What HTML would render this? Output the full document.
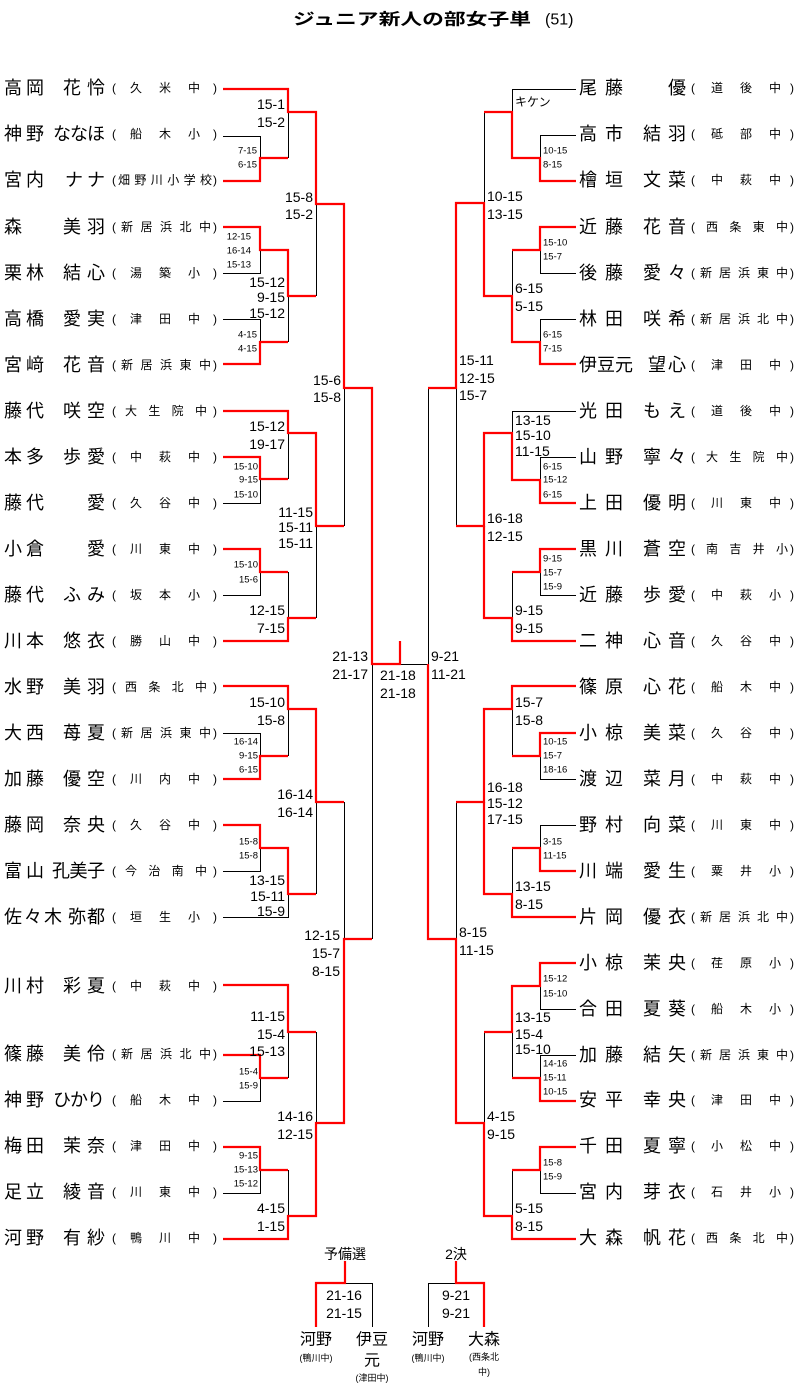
<!DOCTYPE html>
<html><head><meta charset="utf-8">
<style>
html,body{margin:0;padding:0;background:#fff;}
svg{display:block;}
text{font-family:"Liberation Sans","Noto Sans CJK JP",sans-serif;fill:#000;dominant-baseline:central;}
.n{font-size:18px;}
.c{font-size:12px;}
.m{font-size:14px;}
.s{font-size:9.5px;}
.e{text-anchor:end;}
.mid{text-anchor:middle;}
.r{fill:none;stroke:#ff0000;stroke-width:2.2;}
.k{fill:none;stroke:#000;stroke-width:1;}
</style></head>
<body>
<svg width="799" height="1389" viewBox="0 0 799 1389" xmlns="http://www.w3.org/2000/svg">
<text x="293" y="20" textLength="238" lengthAdjust="spacingAndGlyphs" style="font-size:16px;font-weight:bold">ジュニア新人の部女子単</text>
<text x="545" y="20" style="font-size:16px">(51)</text>

<!-- black lines -->
<g class="k">
<path d="M223 136.5H260.5V158M288.5 112V158M223 273.5H260.5V250M223 319.5H260.5V342M288.5 296V342M316.5 204V296"/>
<path d="M223 503.5H260.5V479M288.5 433V479M223 595.5H260.5V572M288.5 572V618M316.5 526V618M344.5 388V526"/>
<path d="M223 733.5H260.5V756M288.5 709V756M223 871.5H260.5V848M223 917.5H288.5V894M316.5 802V894M344.5 802V939M372.5 664V939"/>
<path d="M223 1101.5H260.5V1078M288.5 1032V1078M223 1193.5H260.5V1170M288.5 1170V1216M316.5 1032V1123"/>
<path d="M400 664.5H428.5"/>
<path d="M576 89.5H512.5V112M576 135.5H540.5V158M484.5 112V203M576 273.5H540.5V250M512.5 250V296M576 319.5H540.5V342"/>
<path d="M428.5 388V664M456.5 388V526M576 411.5H512.5V433M576 457.5H540.5V480M576 595.5H540.5V572M512.5 572V618"/>
<path d="M576 779.5H540.5V756M512.5 709V756M576 825.5H540.5V848M512.5 848V894M456.5 802V939"/>
<path d="M576 1009.5H540.5V986M576 1055.5H540.5V1078M512.5 1032V1078M576 1193.5H540.5V1170M512.5 1170V1216M484.5 1032V1123"/>
<path d="M345 1283.5H372.5V1327M456 1283.5H428.5V1327"/>
</g>
<!-- red lines -->
<g class="r">
<path d="M223 89H288V112H316V204H344V388H372V664H400V641"/>
<path d="M223 181H260V158H288"/>
<path d="M223 227H260V250H288V296H316"/>
<path d="M223 364H260V342H288"/>
<path d="M223 411H288V433H316V526H344"/>
<path d="M223 457H260V479H288"/>
<path d="M223 549H260V572H288"/>
<path d="M223 641H288V618H316"/>
<path d="M223 686H288V709H316V802H344"/>
<path d="M223 779H260V756H288"/>
<path d="M223 825H260V848H288V894H316"/>
<path d="M223 1239H288V1216H316V1123H344V939H372"/>
<path d="M223 985H288V1032H316"/>
<path d="M223 1055H260V1078H288"/>
<path d="M223 1147H260V1170H288"/>
<path d="M576 181H540V158H512V112H484"/>
<path d="M576 227H540V250H512"/>
<path d="M576 364H540V342H512V296H484V203H456V388H428"/>
<path d="M576 503H540V480H512V433H484V526H456"/>
<path d="M576 549H540V572H512"/>
<path d="M576 641H512V618H484V526"/>
<path d="M576 686H512V709H484V802H456"/>
<path d="M576 733H540V756H512"/>
<path d="M576 871H540V848H512"/>
<path d="M576 917H512V894H484V802"/>
<path d="M576 963H540V986H512V1032H484"/>
<path d="M576 1101H540V1078H512"/>
<path d="M576 1147H540V1170H512"/>
<path d="M576 1239H512V1216H484V1123H456V939H428V664"/>
<path d="M345 1261V1283H316V1327"/>
<path d="M456 1261V1283H484V1327"/>
</g>

<!-- left names -->
<g class="n">
<text x="4" y="88" textLength="40" lengthAdjust="spacing">高岡</text><text x="63" y="88" textLength="42" lengthAdjust="spacing">花怜</text>
<text x="4" y="134" textLength="40" lengthAdjust="spacing">神野</text><text x="53" y="134" textLength="52" lengthAdjust="spacing">ななほ</text>
<text x="4" y="180" textLength="40" lengthAdjust="spacing">宮内</text><text x="65" y="180" textLength="40" lengthAdjust="spacing">ナナ</text>
<text x="4" y="227">森</text><text x="63" y="227" textLength="42" lengthAdjust="spacing">美羽</text>
<text x="4" y="273" textLength="40" lengthAdjust="spacing">栗林</text><text x="63" y="273" textLength="42" lengthAdjust="spacing">結心</text>
<text x="4" y="319" textLength="40" lengthAdjust="spacing">高橋</text><text x="63" y="319" textLength="42" lengthAdjust="spacing">愛実</text>
<text x="4" y="365" textLength="40" lengthAdjust="spacing">宮﨑</text><text x="63" y="365" textLength="42" lengthAdjust="spacing">花音</text>
<text x="4" y="411" textLength="40" lengthAdjust="spacing">藤代</text><text x="63" y="411" textLength="42" lengthAdjust="spacing">咲空</text>
<text x="4" y="457" textLength="40" lengthAdjust="spacing">本多</text><text x="63" y="457" textLength="42" lengthAdjust="spacing">歩愛</text>
<text x="4" y="503" textLength="40" lengthAdjust="spacing">藤代</text><text x="87" y="503">愛</text>
<text x="4" y="549" textLength="40" lengthAdjust="spacing">小倉</text><text x="87" y="549">愛</text>
<text x="4" y="595" textLength="40" lengthAdjust="spacing">藤代</text><text x="63" y="595" textLength="42" lengthAdjust="spacing">ふみ</text>
<text x="4" y="641" textLength="40" lengthAdjust="spacing">川本</text><text x="63" y="641" textLength="42" lengthAdjust="spacing">悠衣</text>
<text x="4" y="687" textLength="40" lengthAdjust="spacing">水野</text><text x="63" y="687" textLength="42" lengthAdjust="spacing">美羽</text>
<text x="4" y="733" textLength="40" lengthAdjust="spacing">大西</text><text x="63" y="733" textLength="42" lengthAdjust="spacing">苺夏</text>
<text x="4" y="779" textLength="40" lengthAdjust="spacing">加藤</text><text x="63" y="779" textLength="42" lengthAdjust="spacing">優空</text>
<text x="4" y="825" textLength="40" lengthAdjust="spacing">藤岡</text><text x="63" y="825" textLength="42" lengthAdjust="spacing">奈央</text>
<text x="4" y="871" textLength="40" lengthAdjust="spacing">富山</text><text x="52" y="871" textLength="53" lengthAdjust="spacing">孔美子</text>
<text x="4" y="917" textLength="58" lengthAdjust="spacing">佐々木</text><text x="68" y="917" textLength="37" lengthAdjust="spacing">弥都</text>
<text x="4" y="986" textLength="40" lengthAdjust="spacing">川村</text><text x="63" y="986" textLength="42" lengthAdjust="spacing">彩夏</text>
<text x="4" y="1054" textLength="40" lengthAdjust="spacing">篠藤</text><text x="63" y="1054" textLength="42" lengthAdjust="spacing">美伶</text>
<text x="4" y="1100" textLength="40" lengthAdjust="spacing">神野</text><text x="53" y="1100" textLength="52" lengthAdjust="spacing">ひかり</text>
<text x="4" y="1146" textLength="40" lengthAdjust="spacing">梅田</text><text x="63" y="1146" textLength="42" lengthAdjust="spacing">茉奈</text>
<text x="4" y="1192" textLength="40" lengthAdjust="spacing">足立</text><text x="63" y="1192" textLength="42" lengthAdjust="spacing">綾音</text>
<text x="4" y="1238" textLength="40" lengthAdjust="spacing">河野</text><text x="63" y="1238" textLength="42" lengthAdjust="spacing">有紗</text>
</g>
<!-- left schools -->
<g class="c">
<text x="112" y="88">(</text><text x="130" y="88" textLength="70" lengthAdjust="spacing">久米中</text><text x="213" y="88">)</text>
<text x="112" y="134">(</text><text x="130" y="134" textLength="70" lengthAdjust="spacing">船木小</text><text x="213" y="134">)</text>
<text x="112" y="180">(</text><text x="118" y="180" textLength="94" lengthAdjust="spacing">畑野川小学校</text><text x="213" y="180">)</text>
<text x="112" y="227">(</text><text x="121" y="227" textLength="90" lengthAdjust="spacing">新居浜北中</text><text x="213" y="227">)</text>
<text x="112" y="273">(</text><text x="130" y="273" textLength="70" lengthAdjust="spacing">湯築小</text><text x="213" y="273">)</text>
<text x="112" y="319">(</text><text x="130" y="319" textLength="70" lengthAdjust="spacing">津田中</text><text x="213" y="319">)</text>
<text x="112" y="365">(</text><text x="121" y="365" textLength="90" lengthAdjust="spacing">新居浜東中</text><text x="213" y="365">)</text>
<text x="112" y="411">(</text><text x="125" y="411" textLength="82" lengthAdjust="spacing">大生院中</text><text x="213" y="411">)</text>
<text x="112" y="457">(</text><text x="130" y="457" textLength="70" lengthAdjust="spacing">中萩中</text><text x="213" y="457">)</text>
<text x="112" y="503">(</text><text x="130" y="503" textLength="70" lengthAdjust="spacing">久谷中</text><text x="213" y="503">)</text>
<text x="112" y="549">(</text><text x="130" y="549" textLength="70" lengthAdjust="spacing">川東中</text><text x="213" y="549">)</text>
<text x="112" y="595">(</text><text x="130" y="595" textLength="70" lengthAdjust="spacing">坂本小</text><text x="213" y="595">)</text>
<text x="112" y="641">(</text><text x="130" y="641" textLength="70" lengthAdjust="spacing">勝山中</text><text x="213" y="641">)</text>
<text x="112" y="687">(</text><text x="125" y="687" textLength="82" lengthAdjust="spacing">西条北中</text><text x="213" y="687">)</text>
<text x="112" y="733">(</text><text x="121" y="733" textLength="90" lengthAdjust="spacing">新居浜東中</text><text x="213" y="733">)</text>
<text x="112" y="779">(</text><text x="130" y="779" textLength="70" lengthAdjust="spacing">川内中</text><text x="213" y="779">)</text>
<text x="112" y="825">(</text><text x="130" y="825" textLength="70" lengthAdjust="spacing">久谷中</text><text x="213" y="825">)</text>
<text x="112" y="871">(</text><text x="125" y="871" textLength="82" lengthAdjust="spacing">今治南中</text><text x="213" y="871">)</text>
<text x="112" y="917">(</text><text x="130" y="917" textLength="70" lengthAdjust="spacing">垣生小</text><text x="213" y="917">)</text>
<text x="112" y="986">(</text><text x="130" y="986" textLength="70" lengthAdjust="spacing">中萩中</text><text x="213" y="986">)</text>
<text x="112" y="1054">(</text><text x="121" y="1054" textLength="90" lengthAdjust="spacing">新居浜北中</text><text x="213" y="1054">)</text>
<text x="112" y="1100">(</text><text x="130" y="1100" textLength="70" lengthAdjust="spacing">船木中</text><text x="213" y="1100">)</text>
<text x="112" y="1146">(</text><text x="130" y="1146" textLength="70" lengthAdjust="spacing">津田中</text><text x="213" y="1146">)</text>
<text x="112" y="1192">(</text><text x="130" y="1192" textLength="70" lengthAdjust="spacing">川東中</text><text x="213" y="1192">)</text>
<text x="112" y="1238">(</text><text x="130" y="1238" textLength="70" lengthAdjust="spacing">鴨川中</text><text x="213" y="1238">)</text>
</g>

<!-- right names -->
<g class="n">
<text x="579" y="88" textLength="44" lengthAdjust="spacing">尾藤</text><text x="668" y="88">優</text>
<text x="579" y="134" textLength="44" lengthAdjust="spacing">高市</text><text x="643" y="134" textLength="43" lengthAdjust="spacing">結羽</text>
<text x="579" y="180" textLength="44" lengthAdjust="spacing">檜垣</text><text x="643" y="180" textLength="43" lengthAdjust="spacing">文菜</text>
<text x="579" y="227" textLength="44" lengthAdjust="spacing">近藤</text><text x="643" y="227" textLength="43" lengthAdjust="spacing">花音</text>
<text x="579" y="273" textLength="44" lengthAdjust="spacing">後藤</text><text x="643" y="273" textLength="43" lengthAdjust="spacing">愛々</text>
<text x="579" y="319" textLength="44" lengthAdjust="spacing">林田</text><text x="643" y="319" textLength="43" lengthAdjust="spacing">咲希</text>
<text x="579" y="365" textLength="54" lengthAdjust="spacing">伊豆元</text><text x="648" y="365" textLength="38" lengthAdjust="spacing">望心</text>
<text x="579" y="411" textLength="44" lengthAdjust="spacing">光田</text><text x="643" y="411" textLength="43" lengthAdjust="spacing">もえ</text>
<text x="579" y="457" textLength="44" lengthAdjust="spacing">山野</text><text x="643" y="457" textLength="43" lengthAdjust="spacing">寧々</text>
<text x="579" y="503" textLength="44" lengthAdjust="spacing">上田</text><text x="643" y="503" textLength="43" lengthAdjust="spacing">優明</text>
<text x="579" y="549" textLength="44" lengthAdjust="spacing">黒川</text><text x="643" y="549" textLength="43" lengthAdjust="spacing">蒼空</text>
<text x="579" y="595" textLength="44" lengthAdjust="spacing">近藤</text><text x="643" y="595" textLength="43" lengthAdjust="spacing">歩愛</text>
<text x="579" y="641" textLength="44" lengthAdjust="spacing">二神</text><text x="643" y="641" textLength="43" lengthAdjust="spacing">心音</text>
<text x="579" y="687" textLength="44" lengthAdjust="spacing">篠原</text><text x="643" y="687" textLength="43" lengthAdjust="spacing">心花</text>
<text x="579" y="733" textLength="44" lengthAdjust="spacing">小椋</text><text x="643" y="733" textLength="43" lengthAdjust="spacing">美菜</text>
<text x="579" y="779" textLength="44" lengthAdjust="spacing">渡辺</text><text x="643" y="779" textLength="43" lengthAdjust="spacing">菜月</text>
<text x="579" y="825" textLength="44" lengthAdjust="spacing">野村</text><text x="643" y="825" textLength="43" lengthAdjust="spacing">向菜</text>
<text x="579" y="871" textLength="44" lengthAdjust="spacing">川端</text><text x="643" y="871" textLength="43" lengthAdjust="spacing">愛生</text>
<text x="579" y="917" textLength="44" lengthAdjust="spacing">片岡</text><text x="643" y="917" textLength="43" lengthAdjust="spacing">優衣</text>
<text x="579" y="963" textLength="44" lengthAdjust="spacing">小椋</text><text x="643" y="963" textLength="43" lengthAdjust="spacing">茉央</text>
<text x="579" y="1009" textLength="44" lengthAdjust="spacing">合田</text><text x="643" y="1009" textLength="43" lengthAdjust="spacing">夏葵</text>
<text x="579" y="1055" textLength="44" lengthAdjust="spacing">加藤</text><text x="643" y="1055" textLength="43" lengthAdjust="spacing">結矢</text>
<text x="579" y="1100" textLength="44" lengthAdjust="spacing">安平</text><text x="643" y="1100" textLength="43" lengthAdjust="spacing">幸央</text>
<text x="579" y="1146" textLength="44" lengthAdjust="spacing">千田</text><text x="643" y="1146" textLength="43" lengthAdjust="spacing">夏寧</text>
<text x="579" y="1192" textLength="44" lengthAdjust="spacing">宮内</text><text x="643" y="1192" textLength="43" lengthAdjust="spacing">芽衣</text>
<text x="579" y="1238" textLength="44" lengthAdjust="spacing">大森</text><text x="643" y="1238" textLength="43" lengthAdjust="spacing">帆花</text>
</g>
<!-- right schools -->
<g class="c">
<text x="691" y="88">(</text><text x="711" y="88" textLength="70" lengthAdjust="spacing">道後中</text><text x="790" y="88">)</text>
<text x="691" y="134">(</text><text x="711" y="134" textLength="70" lengthAdjust="spacing">砥部中</text><text x="790" y="134">)</text>
<text x="691" y="180">(</text><text x="711" y="180" textLength="70" lengthAdjust="spacing">中萩中</text><text x="790" y="180">)</text>
<text x="691" y="227">(</text><text x="706" y="227" textLength="82" lengthAdjust="spacing">西条東中</text><text x="790" y="227">)</text>
<text x="691" y="273">(</text><text x="700" y="273" textLength="88" lengthAdjust="spacing">新居浜東中</text><text x="790" y="273">)</text>
<text x="691" y="319">(</text><text x="700" y="319" textLength="88" lengthAdjust="spacing">新居浜北中</text><text x="790" y="319">)</text>
<text x="691" y="365">(</text><text x="711" y="365" textLength="70" lengthAdjust="spacing">津田中</text><text x="790" y="365">)</text>
<text x="691" y="411">(</text><text x="711" y="411" textLength="70" lengthAdjust="spacing">道後中</text><text x="790" y="411">)</text>
<text x="691" y="457">(</text><text x="706" y="457" textLength="82" lengthAdjust="spacing">大生院中</text><text x="790" y="457">)</text>
<text x="691" y="503">(</text><text x="711" y="503" textLength="70" lengthAdjust="spacing">川東中</text><text x="790" y="503">)</text>
<text x="691" y="549">(</text><text x="706" y="549" textLength="82" lengthAdjust="spacing">南吉井小</text><text x="790" y="549">)</text>
<text x="691" y="595">(</text><text x="711" y="595" textLength="70" lengthAdjust="spacing">中萩小</text><text x="790" y="595">)</text>
<text x="691" y="641">(</text><text x="711" y="641" textLength="70" lengthAdjust="spacing">久谷中</text><text x="790" y="641">)</text>
<text x="691" y="687">(</text><text x="711" y="687" textLength="70" lengthAdjust="spacing">船木中</text><text x="790" y="687">)</text>
<text x="691" y="733">(</text><text x="711" y="733" textLength="70" lengthAdjust="spacing">久谷中</text><text x="790" y="733">)</text>
<text x="691" y="779">(</text><text x="711" y="779" textLength="70" lengthAdjust="spacing">中萩中</text><text x="790" y="779">)</text>
<text x="691" y="825">(</text><text x="711" y="825" textLength="70" lengthAdjust="spacing">川東中</text><text x="790" y="825">)</text>
<text x="691" y="871">(</text><text x="711" y="871" textLength="70" lengthAdjust="spacing">粟井小</text><text x="790" y="871">)</text>
<text x="691" y="917">(</text><text x="700" y="917" textLength="88" lengthAdjust="spacing">新居浜北中</text><text x="790" y="917">)</text>
<text x="691" y="963">(</text><text x="711" y="963" textLength="70" lengthAdjust="spacing">荏原小</text><text x="790" y="963">)</text>
<text x="691" y="1009">(</text><text x="711" y="1009" textLength="70" lengthAdjust="spacing">船木小</text><text x="790" y="1009">)</text>
<text x="691" y="1055">(</text><text x="700" y="1055" textLength="88" lengthAdjust="spacing">新居浜東中</text><text x="790" y="1055">)</text>
<text x="691" y="1100">(</text><text x="711" y="1100" textLength="70" lengthAdjust="spacing">津田中</text><text x="790" y="1100">)</text>
<text x="691" y="1146">(</text><text x="711" y="1146" textLength="70" lengthAdjust="spacing">小松中</text><text x="790" y="1146">)</text>
<text x="691" y="1192">(</text><text x="711" y="1192" textLength="70" lengthAdjust="spacing">石井小</text><text x="790" y="1192">)</text>
<text x="691" y="1238">(</text><text x="706" y="1238" textLength="82" lengthAdjust="spacing">西条北中</text><text x="790" y="1238">)</text>
</g>

<!-- left scores -->
<g class="m e">
<text x="285" y="104">15-1</text><text x="285" y="122">15-2</text>
<text x="285" y="282">15-12</text><text x="285" y="297">9-15</text><text x="285" y="313">15-12</text>
<text x="313" y="197">15-8</text><text x="313" y="214">15-2</text>
<text x="341" y="380">15-6</text><text x="341" y="397">15-8</text>
<text x="285" y="426">15-12</text><text x="285" y="444">19-17</text>
<text x="313" y="512">11-15</text><text x="313" y="527">15-11</text><text x="313" y="543">15-11</text>
<text x="285" y="610">12-15</text><text x="285" y="628">7-15</text>
<text x="368" y="656">21-13</text><text x="368" y="674">21-17</text>
<text x="285" y="702">15-10</text><text x="285" y="720">15-8</text>
<text x="313" y="794">16-14</text><text x="313" y="812">16-14</text>
<text x="285" y="880">13-15</text><text x="285" y="896">15-11</text><text x="285" y="911">15-9</text>
<text x="340" y="935">12-15</text><text x="340" y="953">15-7</text><text x="340" y="971">8-15</text>
<text x="285" y="1016">11-15</text><text x="285" y="1034">15-4</text><text x="285" y="1051">15-13</text>
<text x="313" y="1116">14-16</text><text x="313" y="1134">12-15</text>
<text x="285" y="1208">4-15</text><text x="285" y="1226">1-15</text>
</g>
<g class="s e">
<text x="257" y="151">7-15</text><text x="257" y="165">6-15</text>
<text x="251" y="237">12-15</text><text x="251" y="251">16-14</text><text x="251" y="265">15-13</text>
<text x="257" y="335">4-15</text><text x="257" y="349">4-15</text>
<text x="258" y="467">15-10</text><text x="258" y="480">9-15</text><text x="258" y="495">15-10</text>
<text x="258" y="565">15-10</text><text x="258" y="580">15-6</text>
<text x="258" y="742">16-14</text><text x="258" y="756">9-15</text><text x="258" y="770">6-15</text>
<text x="258" y="842">15-8</text><text x="258" y="856">15-8</text>
<text x="258" y="1072">15-4</text><text x="258" y="1086">15-9</text>
<text x="258" y="1156">9-15</text><text x="258" y="1170">15-13</text><text x="258" y="1184">15-12</text>
</g>
<g class="m">
<text x="380" y="675">21-18</text><text x="380" y="693">21-18</text>
<text x="431" y="656">9-21</text><text x="431" y="674">11-21</text>
<text x="515" y="102" style="font-size:12px">キケン</text>
<text x="487" y="196">10-15</text><text x="487" y="214">13-15</text>
<text x="515" y="288">6-15</text><text x="515" y="306">5-15</text>
<text x="459" y="360">15-11</text><text x="459" y="378">12-15</text><text x="459" y="395">15-7</text>
<text x="515" y="420">13-15</text><text x="515" y="435">15-10</text><text x="515" y="451">11-15</text>
<text x="487" y="518">16-18</text><text x="487" y="536">12-15</text>
<text x="515" y="610">9-15</text><text x="515" y="628">9-15</text>
<text x="515" y="702">15-7</text><text x="515" y="720">15-8</text>
<text x="487" y="787">16-18</text><text x="487" y="803">15-12</text><text x="487" y="819">17-15</text>
<text x="515" y="886">13-15</text><text x="515" y="904">8-15</text>
<text x="459" y="932">8-15</text><text x="459" y="950">11-15</text>
<text x="515" y="1017">13-15</text><text x="515" y="1034">15-4</text><text x="515" y="1049">15-10</text>
<text x="487" y="1116">4-15</text><text x="487" y="1134">9-15</text>
<text x="515" y="1208">5-15</text><text x="515" y="1226">8-15</text>
</g>
<g class="s">
<text x="543" y="151">10-15</text><text x="543" y="165">8-15</text>
<text x="543" y="243">15-10</text><text x="543" y="257">15-7</text>
<text x="543" y="335">6-15</text><text x="543" y="349">7-15</text>
<text x="543" y="467">6-15</text><text x="543" y="480">15-12</text><text x="543" y="495">6-15</text>
<text x="543" y="559">9-15</text><text x="543" y="573">15-7</text><text x="543" y="587">15-9</text>
<text x="543" y="742">10-15</text><text x="543" y="756">15-7</text><text x="543" y="770">18-16</text>
<text x="543" y="842">3-15</text><text x="543" y="856">11-15</text>
<text x="543" y="979">15-12</text><text x="543" y="994">15-10</text>
<text x="543" y="1064">14-16</text><text x="543" y="1078">15-11</text><text x="543" y="1092">10-15</text>
<text x="543" y="1163">15-8</text><text x="543" y="1177">15-9</text>
</g>

<!-- bottom playoffs -->
<g class="mid">
<text class="m" x="345" y="1254">予備選</text>
<text class="m" x="344" y="1295">21-16</text><text class="m" x="344" y="1313">21-15</text>
<text class="n" x="316" y="1340" style="font-size:16px">河野</text>
<text x="316" y="1358" style="font-size:9px">(鴨川中)</text>
<text class="n" x="372" y="1340" style="font-size:16px">伊豆</text>
<text class="n" x="372" y="1361" style="font-size:16px">元</text>
<text x="372" y="1378" style="font-size:9px">(津田中)</text>
<text class="m" x="456" y="1254">2決</text>
<text class="m" x="456" y="1295">9-21</text><text class="m" x="456" y="1313">9-21</text>
<text class="n" x="428" y="1340" style="font-size:16px">河野</text>
<text x="428" y="1358" style="font-size:9px">(鴨川中)</text>
<text class="n" x="484" y="1340" style="font-size:16px">大森</text>
<text x="484" y="1357" style="font-size:9px">(西条北</text>
<text x="484" y="1372" style="font-size:9px">中)</text>
</g>
</svg>
</body></html>
